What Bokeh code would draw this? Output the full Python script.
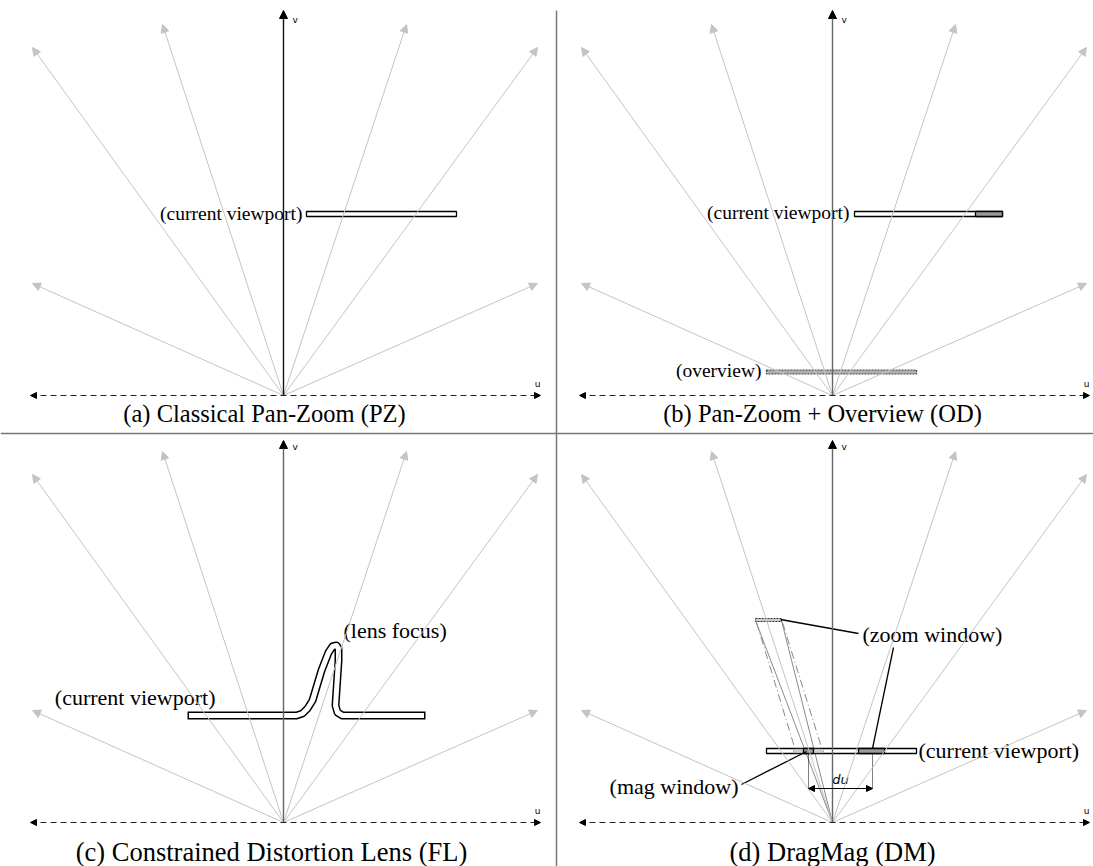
from bokeh.plotting import figure
from bokeh.models import Range1d, Arrow, NormalHead, ColumnDataSource
from bokeh.core.properties import value
from bokeh.embed import file_html
from bokeh.resources import INLINE

# ---------------- data (diagram geometry, panel-local: u right, v up) ----------------
PANEL_ORIGIN_X = [283, 832, 283, 832]
PANEL_ORIGIN_Y = [395, 395, 822, 822]
CAPTIONS = ["(a) Classical Pan-Zoom (PZ)", "(b) Pan-Zoom + Overview (OD)",
            "(c) Constrained Distortion Lens (FL)", "(d) DragMag (DM)"]
CAPTION_X = [264, 822, 271, 832]
CAPTION_Y = [413, 413, 851, 851]
CAPTION_SIZES = ["24.5px", "24.5px", "26.5px", "26.5px"]
AXIS_COLORS = ["#111111", "#666666", "#666666", "#666666"]

RAY_DU = [-251, -251, -121, 123, 254, 254]
RAY_DV = [112, 348, 371, 371, 348, 112]
V_AXIS_TOP = [385, 385, 382, 382]
U_AXIS_LEFT = -253
U_AXIS_RIGHT = 257
V_LABEL = (9, 376)
U_LABEL = (254, 12)

# panel (a)
VP_A = dict(u0=23, u1=173, v=181.5)
LBL_A = dict(u=19, v=182, text="(current viewport)")
# panel (b)
VP_B = dict(u0=22, u1=170, v=181.5, g0=143)
LBL_B = dict(u=17, v=183, text="(current viewport)")
OVERVIEW_B = dict(u0=-66, u1=84, v=23.5)
LBL_OV = dict(u=-71, v=25, text="(overview)")
# panel (c) lens centreline
LENS_U = [-96, 13, 19, 24, 29, 38, 45, 49, 53, 55, 55, 53, 52, 54, 59, 142]
LENS_V = [107, 107, 109, 114, 122, 152, 170, 176, 177, 174, 162, 132, 117, 110, 107, 107]
LBL_C_VP = dict(u=-68, v=125, text="(current viewport)")
LBL_C_LF = dict(u=60, v=192, text="(lens focus)")
# panel (d)
VP_D = dict(u0=-66, u1=84, v=71.5)
ZOOM_IND = dict(u0=26, u1=52)
MAG_HATCH = dict(u0=-39, u1=-9)
MAG_WIN = dict(u0=-29, u1=-19)
ZOOM_WIN = dict(u0=-77, u1=-51, v0=201, v1=204)
SOLID_RAYS_U = [-77, -51]
SOLID_RAYS_V = [202, 202]
DASHDOT_U0 = [-76, -50]
DASHDOT_V0 = [200, 200]
DASHDOT_U1 = [-37, -10]
DASHDOT_V1 = [72, 72]
LEADER_U0 = [-52, 61, -91]
LEADER_V0 = [203, 175, 38]
LEADER_U1 = [26, 40, -26]
LEADER_V1 = [189, 74, 71]
DU_MARK_U = [-24, 40]
DU_MARK_V0, DU_MARK_V1 = 69, 33
DU_ARROW_V = 34
LBL_D = [dict(u=30, v=188, text="(zoom window)", align="left"),
         dict(u=86, v=72, text="(current viewport)", align="left"),
         dict(u=-94, v=36, text="(mag window)", align="right")]
DU_LABEL = dict(u=8, v=43, text="du")

SERIF = value("Liberation Serif")
LBL_SIZE = value("19.5px")
LBL_SIZE_LOW = value("22px")


def X(i, du):
    return PANEL_ORIGIN_X[i] + du


def Y(i, dv):
    return PANEL_ORIGIN_Y[i] - dv


W, H = 1093, 866
p = figure(width=W, height=H, x_range=Range1d(0, W), y_range=Range1d(H, 0),
           output_backend="svg", toolbar_location=None, min_border=0,
           x_axis_location=None, y_axis_location=None)
p.grid.visible = False
p.outline_line_color = None
p.background_fill_color = "white"

# dividers
p.line(x=[556, 556], y=[10, 870], line_color="#777777", line_width=1.5)
p.line(x=[0, 1100], y=[433, 433], line_color="#777777", line_width=1.5)

for i in range(4):
    src = ColumnDataSource(dict(x0=[X(i, 0)] * len(RAY_DU), y0=[Y(i, 0)] * len(RAY_DU),
                                x1=[X(i, u) for u in RAY_DU], y1=[Y(i, v) for v in RAY_DV]))
    p.add_layout(Arrow(end=NormalHead(size=8, fill_color="#c4c4c4", line_color="#c4c4c4"),
                       x_start="x0", y_start="y0", x_end="x1", y_end="y1", source=src,
                       line_color="#c4c4c4", line_width=1))
    p.add_layout(Arrow(end=NormalHead(size=8, fill_color="black", line_color="black"),
                       x_start=X(i, 0), y_start=Y(i, 0), x_end=X(i, 0), y_end=Y(i, V_AXIS_TOP[i]),
                       line_color=AXIS_COLORS[i], line_width=1.4))
    p.add_layout(Arrow(start=NormalHead(size=6, fill_color="black", line_color="black"),
                       end=NormalHead(size=6, fill_color="black", line_color="black"),
                       x_start=X(i, U_AXIS_LEFT), y_start=Y(i, 0), x_end=X(i, U_AXIS_RIGHT), y_end=Y(i, 0),
                       line_color="#222222", line_width=1, line_dash="6 4"))
    p.text(x=[X(i, V_LABEL[0])], y=[Y(i, V_LABEL[1])], text=["v"], text_font=value("DejaVu Sans"),
           text_font_size=value("9px"), text_align="left", text_baseline="middle")
    p.text(x=[X(i, U_LABEL[0])], y=[Y(i, U_LABEL[1])], text=["u"], text_font=value("DejaVu Sans"),
           text_font_size=value("9px"), text_align="center", text_baseline="middle")
    p.text(x=[CAPTION_X[i]], y=[CAPTION_Y[i]], text=[CAPTIONS[i]], text_font=SERIF,
           text_font_size=value(CAPTION_SIZES[i]), text_align="center", text_baseline="middle")

HB = 2.5  # half height of viewport bars

# ---- panel (a)
p.quad(left=[X(0, VP_A["u0"])], right=[X(0, VP_A["u1"])], top=[Y(0, VP_A["v"] + HB)],
       bottom=[Y(0, VP_A["v"] - HB)], fill_color="white", line_color="black", line_width=1.3)
p.text(x=[X(0, LBL_A["u"])], y=[Y(0, LBL_A["v"])], text=[LBL_A["text"]], text_font=SERIF,
       text_font_size=LBL_SIZE, text_align="right", text_baseline="middle")

# ---- panel (b)
p.quad(left=[X(1, VP_B["u0"])], right=[X(1, VP_B["u1"])], top=[Y(1, VP_B["v"] + HB)],
       bottom=[Y(1, VP_B["v"] - HB)], fill_color="white", line_color="black", line_width=1.3)
p.quad(left=[X(1, VP_B["g0"])], right=[X(1, VP_B["u1"])], top=[Y(1, VP_B["v"] + HB)],
       bottom=[Y(1, VP_B["v"] - HB)], fill_color="#999999", line_color="black", line_width=1.3)
p.text(x=[X(1, LBL_B["u"])], y=[Y(1, LBL_B["v"])], text=[LBL_B["text"]], text_font=SERIF,
       text_font_size=LBL_SIZE, text_align="right", text_baseline="middle")
p.quad(left=[X(1, OVERVIEW_B["u0"])], right=[X(1, OVERVIEW_B["u1"])], top=[Y(1, OVERVIEW_B["v"] + 2)],
       bottom=[Y(1, OVERVIEW_B["v"] - 2)], fill_color="#b0b0b0", line_color="#444444",
       line_width=1.2, line_dash="2 1")
p.text(x=[X(1, LBL_OV["u"])], y=[Y(1, LBL_OV["v"])], text=[LBL_OV["text"]], text_font=SERIF,
       text_font_size=LBL_SIZE, text_align="right", text_baseline="middle")

# ---- panel (c) lens
lx = [X(2, u) for u in LENS_U]
ly = [Y(2, v) for v in LENS_V]
p.line(x=lx, y=ly, line_color="black", line_width=8, line_join="round", line_cap="butt")
wx = list(lx)
wx[0] += 1.5
wx[-1] -= 1.5
p.line(x=wx, y=ly, line_color="white", line_width=5, line_join="round", line_cap="butt")
for L, al in ((LBL_C_VP, "right"), (LBL_C_LF, "left")):
    p.text(x=[X(2, L["u"])], y=[Y(2, L["v"])], text=[L["text"]], text_font=SERIF,
           text_font_size=LBL_SIZE_LOW, text_align=al, text_baseline="middle")

# ---- panel (d)
for u, v in zip(SOLID_RAYS_U, SOLID_RAYS_V):
    p.line(x=[X(3, 0), X(3, u)], y=[Y(3, 0), Y(3, v)], line_color="#8a8a8a", line_width=1)
for u0, v0, u1, v1 in zip(DASHDOT_U0, DASHDOT_V0, DASHDOT_U1, DASHDOT_V1):
    p.line(x=[X(3, u0), X(3, u1)], y=[Y(3, v0), Y(3, v1)], line_color="#888888",
           line_width=1, line_dash="8 3 1 3")
p.quad(left=[X(3, ZOOM_WIN["u0"])], right=[X(3, ZOOM_WIN["u1"])], top=[Y(3, ZOOM_WIN["v1"])],
       bottom=[Y(3, ZOOM_WIN["v0"])], fill_color="#cccccc", line_color="#333333",
       line_width=1, line_dash="2 1")
p.quad(left=[X(3, VP_D["u0"])], right=[X(3, VP_D["u1"])], top=[Y(3, VP_D["v"] + HB)],
       bottom=[Y(3, VP_D["v"] - HB)], fill_color="white", line_color="black", line_width=1.3)
p.quad(left=[X(3, MAG_HATCH["u0"])], right=[X(3, MAG_HATCH["u1"])], top=[Y(3, VP_D["v"] + 1.8)],
       bottom=[Y(3, VP_D["v"] - 1.8)], fill_color="#cfcfcf", line_color="#999999",
       line_width=1, line_dash="1 1")
p.quad(left=[X(3, MAG_WIN["u0"])], right=[X(3, MAG_WIN["u1"])], top=[Y(3, VP_D["v"] + HB)],
       bottom=[Y(3, VP_D["v"] - HB)], fill_color="#999999", line_color="black", line_width=1.3)
p.quad(left=[X(3, ZOOM_IND["u0"])], right=[X(3, ZOOM_IND["u1"])], top=[Y(3, VP_D["v"] + HB)],
       bottom=[Y(3, VP_D["v"] - HB)], fill_color="#999999", line_color="black", line_width=1.3)
for u0, v0, u1, v1 in zip(LEADER_U0, LEADER_V0, LEADER_U1, LEADER_V1):
    p.line(x=[X(3, u0), X(3, u1)], y=[Y(3, v0), Y(3, v1)], line_color="black", line_width=1.3)
for u in DU_MARK_U:
    p.line(x=[X(3, u), X(3, u)], y=[Y(3, DU_MARK_V0), Y(3, DU_MARK_V1)], line_color="black",
           line_width=1, line_dash="1 1")
p.add_layout(Arrow(start=NormalHead(size=6, fill_color="black", line_color="black"),
                   end=NormalHead(size=6, fill_color="black", line_color="black"),
                   x_start=X(3, DU_MARK_U[0]), y_start=Y(3, DU_ARROW_V),
                   x_end=X(3, DU_MARK_U[1]), y_end=Y(3, DU_ARROW_V),
                   line_color="black", line_width=1))
p.text(x=[X(3, DU_LABEL["u"])], y=[Y(3, DU_LABEL["v"])], text=[DU_LABEL["text"]],
       text_font=value("DejaVu Sans"), text_font_style="italic", text_font_size=value("13px"),
       text_align="center", text_baseline="middle")
for L in LBL_D:
    p.text(x=[X(3, L["u"])], y=[Y(3, L["v"])], text=[L["text"]], text_font=SERIF,
           text_font_size=LBL_SIZE_LOW, text_align=L["align"], text_baseline="middle")

open("out.html", "w").write(file_html(p, INLINE))
